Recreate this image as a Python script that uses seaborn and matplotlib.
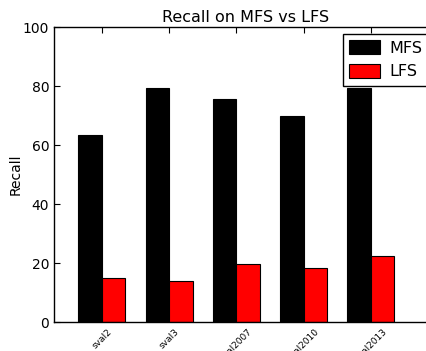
import pandas as pd
import matplotlib
matplotlib.use('Agg')
import matplotlib.pyplot as plt
import seaborn as sns

# values
datasets = ['sval2', 'sval3', 'sval2007', 'sval2010', 'sval2013']
mfs = [63.4, 79.4, 75.7, 69.9, 79.4]
lfs = [14.9, 13.9, 19.7, 18.3, 22.4]

df = pd.DataFrame({
    'dataset': datasets * 2,
    'recall': mfs + lfs,
    'sense': ['MFS'] * len(mfs) + ['LFS'] * len(lfs),
})

sns.set_style('white')
plt.rcParams['font.family'] = ['DejaVu Sans']
plt.rcParams['xtick.direction'] = 'in'
plt.rcParams['ytick.direction'] = 'in'
for key in ['text.color', 'axes.labelcolor', 'xtick.color', 'ytick.color']:
    plt.rcParams[key] = 'black'

fig = plt.figure(figsize=(4.27, 3.51), dpi=100)
ax = fig.add_axes([0.1265, 0.0826, 0.895, 0.840])

sns.barplot(data=df, x='dataset', y='recall', hue='sense',
            palette={'MFS': 'black', 'LFS': 'red'}, saturation=1,
            width=0.7, edgecolor='black', linewidth=0.8, ax=ax)

ax.set_xlim(-0.71, 4.97)
ax.set_ylim(0, 100)
ax.set_yticks([0, 20, 40, 60, 80, 100])
ax.tick_params(axis='y', labelsize=10, length=4, width=0.8,
               left=True, right=True)
ax.tick_params(axis='x', labelsize=6.5, length=4, width=0.8,
               bottom=True, top=True)
plt.setp(ax.get_xticklabels(), rotation=45)
for s in ax.spines.values():
    s.set_linewidth(1.0)
    s.set_color('black')

ax.set_xlabel('')
ax.set_ylabel('Recall', fontsize=10)
ax.yaxis.set_label_coords(-0.081, 0.5)
ax.set_title('Recall on MFS vs LFS', fontsize=11.5, pad=4)

ax.legend(loc='upper left', bbox_to_anchor=(343 / 427, 1 - 34 / 351),
          bbox_transform=fig.transFigure, borderaxespad=0,
          fontsize=11.5, fancybox=False, edgecolor='black',
          framealpha=1, handlelength=1.9, handleheight=0.95,
          handletextpad=0.6)

plt.savefig('out.png', dpi=100)
